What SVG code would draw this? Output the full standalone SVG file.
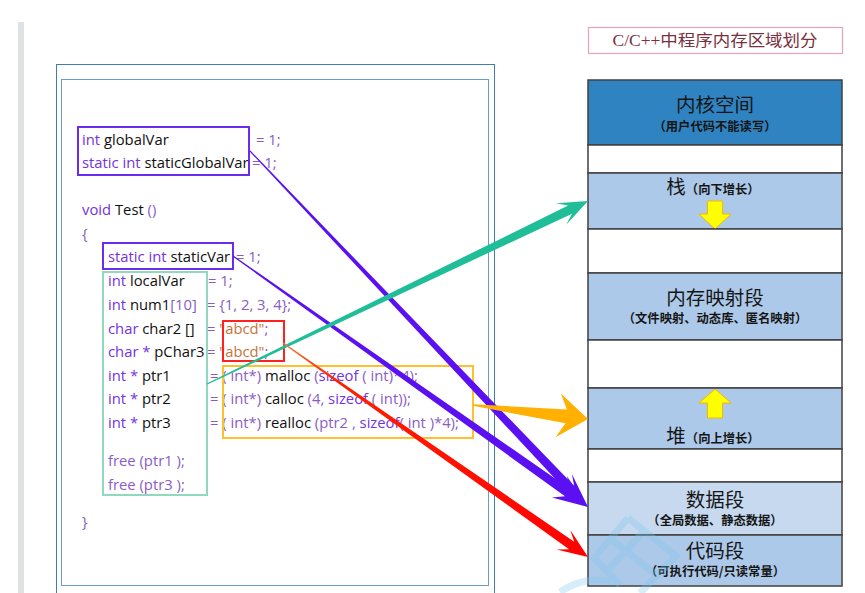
<svg xmlns="http://www.w3.org/2000/svg" width="865" height="593" viewBox="0 0 865 593">
<defs>
<style>
.code{font-family:"Open Sans","Noto Sans",sans-serif;font-size:14.8px}
.kw{fill:#7233e0}.id{fill:#111}.op{fill:#8a5cc4}.str{fill:#c8733c}
.seg{stroke:#404040;stroke-width:1.5}
.big{font-family:"Noto Sans CJK SC",sans-serif;font-size:19.5px;fill:#151515;text-anchor:middle}
.sm{font-family:"Noto Sans CJK SC",sans-serif;font-size:12.3px;font-weight:bold;fill:#151515;text-anchor:middle}
.garrow{fill:#ffff00;stroke:#f0b800;stroke-width:1}
</style>
<linearGradient id="redg" gradientUnits="userSpaceOnUse" x1="283" y1="343" x2="588" y2="557">
<stop offset="0" stop-color="#f07a3a"/><stop offset="0.18" stop-color="#ff2000"/><stop offset="1" stop-color="#ff0000"/>
</linearGradient>
</defs>
<rect width="865" height="593" fill="#ffffff"/>
<rect x="18" y="22" width="6" height="571" fill="#dfe2e5"/>

<g id="code-panel">
<rect x="56.5" y="64.5" width="438" height="545" fill="none" stroke="#3d7fb5" stroke-width="1"/>
<rect x="61.5" y="79.5" width="427" height="506" fill="none" stroke="#6a9cc8" stroke-width="1"/>
<text class="code" x="82" y="145"><tspan class="kw">int</tspan><tspan class="id"> globalVar</tspan></text>
<text class="code op" x="256" y="145">= 1;</text>
<text class="code" x="82" y="168"><tspan class="kw">static int</tspan><tspan class="id"> staticGlobalVar</tspan></text>
<text class="code op" x="252" y="168">= 1;</text>
<text class="code" x="82" y="215"><tspan class="kw">void</tspan><tspan class="id"> Test </tspan><tspan class="op">()</tspan></text>
<text class="code op" x="82" y="239">{</text>
<text class="code" x="108" y="262"><tspan class="kw">static int</tspan><tspan class="id"> staticVar</tspan></text>
<text class="code op" x="236" y="262">= 1;</text>
<text class="code" x="108" y="286"><tspan class="kw">int</tspan><tspan class="id"> localVar</tspan></text>
<text class="code op" x="208" y="286">= 1;</text>
<text class="code" x="108" y="310"><tspan class="kw">int</tspan><tspan class="id"> num1</tspan><tspan class="op">[10]</tspan></text>
<text class="code op" x="207" y="310">= {1, 2, 3, 4};</text>
<text class="code" x="108" y="334"><tspan class="kw">char</tspan><tspan class="id"> char2 []</tspan></text>
<text class="code" x="207" y="334"><tspan class="op">= </tspan><tspan class="str">"abcd"</tspan><tspan class="op">;</tspan></text>
<text class="code" x="108" y="357"><tspan class="kw">char * </tspan><tspan class="id">pChar3</tspan></text>
<text class="code" x="207" y="357"><tspan class="op">= </tspan><tspan class="str">"abcd"</tspan><tspan class="op">;</tspan></text>
<text class="code" x="108" y="381"><tspan class="kw">int * </tspan><tspan class="id">ptr1</tspan></text>
<text class="code" x="210" y="381"><tspan class="op">= ( int*) </tspan><tspan class="id">malloc </tspan><tspan class="op">(</tspan><tspan class="kw">sizeof</tspan><tspan class="op"> ( int)*4);</tspan></text>
<text class="code" x="108" y="404"><tspan class="kw">int * </tspan><tspan class="id">ptr2</tspan></text>
<text class="code" x="210" y="404"><tspan class="op">= ( int*) </tspan><tspan class="id">calloc </tspan><tspan class="op">(4, </tspan><tspan class="kw">sizeof</tspan><tspan class="op"> ( int));</tspan></text>
<text class="code" x="108" y="428"><tspan class="kw">int * </tspan><tspan class="id">ptr3</tspan></text>
<text class="code" x="210" y="428"><tspan class="op">= ( int*) </tspan><tspan class="id">realloc </tspan><tspan class="op">(ptr2 , </tspan><tspan class="kw">sizeof</tspan><tspan class="op">( int )*4);</tspan></text>
<text class="code op" x="108" y="466">free (ptr1 );</text>
<text class="code op" x="108" y="490">free (ptr3 );</text>
<text class="code op" x="82" y="527">}</text>
</g>

<g id="highlight-boxes" fill="none">
<rect id="box-global" x="78" y="127" width="171" height="48" stroke="#6a2df0" stroke-width="2"/>
<rect id="box-staticvar" x="103" y="243" width="130" height="26" stroke="#6a2df0" stroke-width="2"/>
<rect id="box-local" x="103" y="272" width="104" height="223" stroke="#90d8c0" stroke-width="2"/>
<rect id="box-const" x="223" y="321" width="61" height="40" stroke="#ff2020" stroke-width="2"/>
<rect id="box-heap" x="223" y="366" width="250" height="72" stroke="#ffc030" stroke-width="2"/>
</g>

<g id="title">
<rect x="588.5" y="27.5" width="254" height="26" fill="#ffffff" stroke="#e8a4b4" stroke-width="1.2"/>
<text x="715" y="46" text-anchor="middle" textLength="205" lengthAdjust="spacingAndGlyphs" font-family="'Liberation Serif','Noto Sans CJK SC',serif" font-size="16" fill="#7a3040">C/C++中程序内存区域划分</text>
</g>

<g id="memory">
<g id="kernel"><rect class="seg" x="588" y="80" width="254" height="65" fill="#2f83c1"/>
<text class="big" x="715" y="112">内核空间</text><text class="sm" x="715" y="131">（用户代码不能读写）</text></g>
<rect class="seg" x="588" y="145" width="254" height="28" fill="#ffffff"/>
<g id="stack"><rect class="seg" x="588" y="173" width="254" height="56" fill="#adc9e9"/>
<text class="big" x="713" y="194">栈<tspan font-size="12.3" font-weight="bold">（向下增长）</tspan></text>
<path class="garrow" d="M707.5,201 H722.5 V214 H731 L715,229 L699,214 H707.5 Z"/></g>
<rect class="seg" x="588" y="229" width="254" height="44" fill="#ffffff"/>
<g id="mmap"><rect class="seg" x="588" y="273" width="254" height="67" fill="#adc9e9"/>
<text class="big" x="715" y="305">内存映射段</text><text class="sm" x="715" y="323">（文件映射、动态库、匿名映射）</text></g>
<rect class="seg" x="588" y="340" width="254" height="48" fill="#ffffff"/>
<g id="heap"><rect class="seg" x="588" y="388" width="254" height="61" fill="#adc9e9"/>
<path class="garrow" d="M715,389 L731,403 H722.5 V418 H707.5 V403 H699 Z"/>
<text class="big" x="713" y="443">堆<tspan font-size="12.3" font-weight="bold">（向上增长）</tspan></text></g>
<rect class="seg" x="588" y="449" width="254" height="33" fill="#ffffff"/>
<g id="data"><rect class="seg" x="588" y="482" width="254" height="53" fill="#c6d9ef"/>
<text class="big" x="715" y="507">数据段</text><text class="sm" x="715" y="525">（全局数据、静态数据）</text></g>
<g id="text-seg"><rect class="seg" x="588" y="535" width="254" height="51" fill="#adc9e9"/>
<text class="big" x="715" y="558">代码段</text><text class="sm" x="715" y="576">（可执行代码/只读常量）</text></g>
</g>

<g id="watermark" fill="none" stroke="#7cc8ef" stroke-width="7" opacity="0.3">
<path d="M628,518 L676,556 L640,593 M628,518 L594,558 L620,585 M610,538 L655,574 M645,530 L606,572"/>
<path d="M560,592 Q585,575 612,582"/>
</g>

<g id="connectors">
<polygon fill="#5b10f2" points="250.4,150.6 574.1,485.8 571.9,474.0 588,507 555.9,489.2 567.5,492.0 249.6,151.4"/>
<polygon fill="#5b10f2" points="233.35,255.51 570.2,488.9 566.9,476.2 588,507 551.9,497.4 565.0,496.3 232.65,256.49"/>
<polygon fill="#1fbe98" points="206.7,383.5 568.1,205.6 555.8,203.2 588,201 566.2,224.8 572.0,213.7 207.3,384.5"/>
<polygon fill="#ffb000" points="473.1,404.2 566.9,409.4 560.9,393.6 588,419 555.5,437.2 565.5,423.3 472.9,405.8"/>
<polygon fill="url(#redg)" points="283.3,342.5 574.2,541.8 570.3,530.0 588,557 556.5,549.6 569.0,549.2 282.7,343.5"/>
</g>
</svg>
